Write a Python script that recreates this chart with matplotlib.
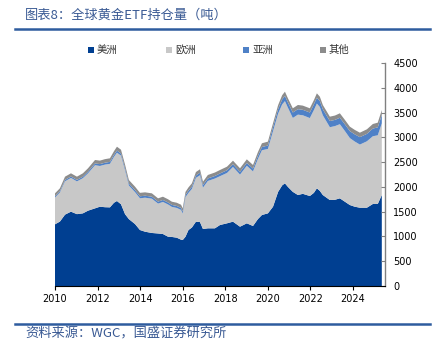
import matplotlib
matplotlib.use("Agg")
import matplotlib.pyplot as plt
from matplotlib.patches import Rectangle
from matplotlib.lines import Line2D

plt.rcParams['font.family'] = ['Noto Sans CJK SC', 'DejaVu Sans']

# fractional years
dates = [2010.00, 2010.23, 2010.47, 2010.75, 2011.03, 2011.31, 2011.55, 2011.88,
         2012.11, 2012.35, 2012.58, 2012.77, 2012.91, 2013.10, 2013.29, 2013.47,
         2013.76, 2013.99, 2014.23, 2014.55, 2014.84, 2015.07, 2015.31, 2015.49,
         2015.72, 2015.92, 2016.00, 2016.13, 2016.27, 2016.43, 2016.62, 2016.81,
         2016.95, 2017.18, 2017.51, 2017.75, 2018.08, 2018.36, 2018.69, 2019.01,
         2019.30, 2019.53, 2019.72, 2020.00, 2020.24, 2020.48, 2020.67, 2020.80,
         2020.94, 2021.17, 2021.41, 2021.64, 2021.97, 2022.16, 2022.30, 2022.44,
         2022.58, 2022.91, 2023.15, 2023.38, 2023.62, 2023.85, 2024.08, 2024.32,
         2024.65, 2024.93, 2025.16, 2025.35]

americas = [1245, 1300, 1440, 1500, 1450, 1466, 1520, 1567,
            1600, 1590, 1587, 1680, 1715, 1650, 1450, 1350,
            1250, 1130, 1096, 1070, 1060, 1049, 995, 990,
            975, 935, 928, 995, 1130, 1180, 1298, 1290,
            1150, 1164, 1164, 1231, 1265, 1298, 1197, 1265,
            1211, 1350, 1433, 1466, 1600, 1900, 2030, 2072,
            2000, 1900, 1836, 1860, 1816, 1880, 1971, 1920,
            1836, 1735, 1740, 1769, 1700, 1634, 1600, 1580,
            1580, 1655, 1655, 1836]

europe = [540, 586, 673, 681, 661, 710, 753, 871,
          822, 860, 878, 925, 976, 980, 885, 677,
          644, 640, 686, 692, 603, 647, 650, 606,
          600, 600, 534, 798, 749, 779, 884, 945,
          835, 956, 1004, 985, 1016, 1104, 1051, 1161,
          1101, 1213, 1307, 1299, 1523, 1578, 1635, 1659,
          1598, 1491, 1622, 1585, 1573, 1670, 1711, 1692,
          1609, 1469, 1487, 1496, 1425, 1351, 1315, 1274,
          1340, 1367, 1386, 1446]

asia = [25, 25, 28, 28, 30, 30, 32, 35,
        38, 38, 40, 40, 42, 42, 40, 40,
        40, 40, 40, 40, 40, 40, 40, 40,
        40, 40, 40, 42, 45, 45, 48, 50,
        50, 50, 52, 55, 55, 55, 55, 58,
        58, 62, 65, 70, 80, 90, 100, 105,
        105, 110, 110, 110, 112, 115, 118, 120,
        120, 125, 125, 130, 135, 140, 145, 150,
        150, 155, 160, 170]

other = [60, 60, 65, 65, 65, 68, 70, 70,
         70, 72, 72, 75, 78, 78, 75, 72,
         70, 70, 68, 68, 66, 66, 65, 65,
         65, 65, 65, 65, 66, 68, 70, 70,
         70, 70, 70, 70, 72, 72, 72, 72,
         72, 75, 75, 78, 80, 82, 85, 85,
         85, 85, 85, 85, 85, 85, 88, 88,
         88, 88, 88, 90, 90, 90, 90, 90,
         92, 92, 95, 100]

series_names = ['美洲', '欧洲', '亚洲', '其他']
colors = ['#003F91', '#C8C8C8', '#4F81C7', '#8C8C8C']
x_ticks = [2010, 2012, 2014, 2016, 2018, 2020, 2022, 2024]
y_ticks = [0, 500, 1000, 1500, 2000, 2500, 3000, 3500, 4000, 4500]

fig = plt.figure(figsize=(4.44, 3.5), dpi=100)
ax = fig.add_axes([55/444, 1-286/350, 330/444, 223/350])

ax.stackplot(dates, americas, europe, asia, other, colors=colors, linewidth=0)

ax.set_xlim(2010, 2025.5)
ax.set_ylim(0, 4500)
ax.set_xticks(x_ticks)
ax.set_xticklabels([str(t) for t in x_ticks])
ax.set_yticks(y_ticks)
ax.yaxis.tick_right()
ax.yaxis.set_label_position('right')
ax.tick_params(axis='y', direction='in', length=3, width=0.8, color='#808080',
               labelsize=7, pad=6, labelcolor='black')
ax.tick_params(axis='x', direction='out', length=3, width=0.8, labelsize=7, pad=3)
for lbl in ax.get_xticklabels() + ax.get_yticklabels():
    lbl.set_fontfamily('DejaVu Sans')
ax.spines['top'].set_visible(False)
ax.spines['left'].set_visible(False)
ax.spines['right'].set_color('#808080')
ax.spines['right'].set_linewidth(1.0)
ax.spines['bottom'].set_color('black')
ax.spines['bottom'].set_linewidth(0.8)

# title & rules
title_color = '#3A5A94'
fig.text(25/444, 1-15/350, '图表8：全球黄金ETF持仓量（吨）', fontsize=9.5,
         color=title_color, va='center', ha='left')
fig.add_artist(Line2D([15/444, 430/444], [1-28.5/350, 1-28.5/350],
                      color='#2E5C9E', linewidth=1.8))
fig.add_artist(Line2D([15/444, 430/444], [1-323.5/350, 1-323.5/350],
                      color='#2E5C9E', linewidth=1.8))
fig.text(25/444, 1-334/350, '资料来源：WGC，国盛证券研究所', fontsize=9.5,
         color=title_color, va='center', ha='left')

# legend
leg_x = [88, 166, 243, 320]
for xp, name, c in zip(leg_x, series_names, colors):
    fig.add_artist(Rectangle((xp/444, 1-53/350), 6/444, 6/350, facecolor=c,
                             edgecolor='none', transform=fig.transFigure))
    fig.text((xp+9)/444, 1-50/350, name, fontsize=7.5, va='center', ha='left',
             color='#333333')

fig.savefig('out.png', dpi=100)
